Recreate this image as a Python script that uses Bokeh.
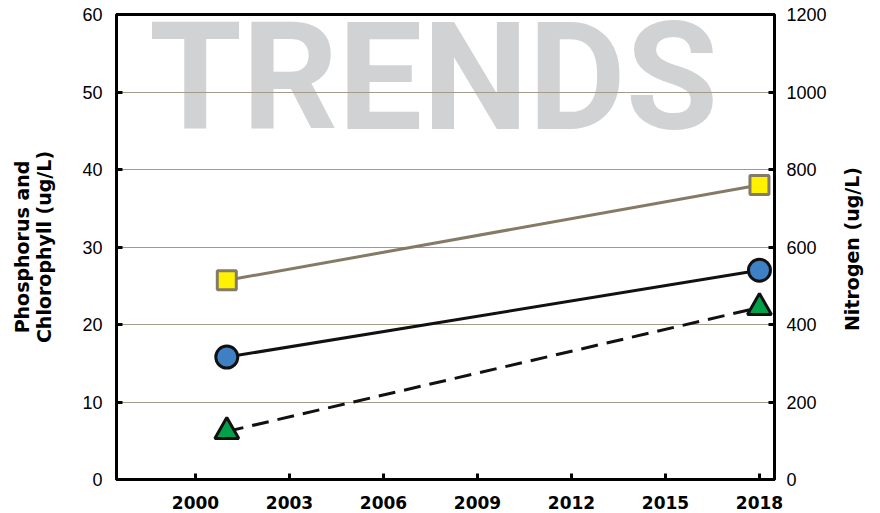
import math
from bokeh.plotting import figure
from bokeh.layouts import row
from bokeh.models import Range1d, LinearAxis, FixedTicker, Label
from bokeh.core.properties import value
from bokeh.embed import file_html
from bokeh.resources import INLINE

# Data
years = [2001, 2018]
phos_chl_square = [25.7, 38.0]
phos_chl_circle = [15.8, 27.0]
phos_chl_triangle = [6.2, 22.2]
x_ticks = [2000, 2003, 2006, 2009, 2012, 2015, 2018]
left_ticks = [0, 10, 20, 30, 40, 50, 60]
right_ticks = [0, 200, 400, 600, 800, 1000, 1200]
right_title = ["Nitrogen (ug/L)"]

p = figure(frame_width=658, frame_height=465, output_backend="svg", toolbar_location=None,
           x_range=Range1d(1997.48, 2018.48), y_range=Range1d(0, 60),
           min_border_left=116, min_border_right=56, min_border_top=14, min_border_bottom=26)
p.extra_y_ranges = {"n": Range1d(0, 1200)}

p.outline_line_color = "black"
p.outline_line_width = 3
p.background_fill_color = "white"
p.border_fill_color = "white"

p.xgrid.visible = False
p.ygrid.ticker = FixedTicker(ticks=left_ticks)
p.ygrid.grid_line_color = "#a39a88"
p.ygrid.grid_line_width = 1

# Axes
ax = p.xaxis[0]
ax.ticker = FixedTicker(ticks=x_ticks)
ay = p.yaxis[0]
ay.ticker = FixedTicker(ticks=left_ticks)
ay.axis_label = "Phosphorus and\nChlorophyll (ug/L)"

ar = LinearAxis(y_range_name="n", ticker=FixedTicker(ticks=right_ticks))
p.add_layout(ar, "right")

for a in (ax, ay, ar):
    a.axis_line_width = 3
    a.axis_line_color = "black"
    a.major_tick_line_width = 3
    a.major_tick_line_color = "black"
    a.major_tick_in = 6
    a.major_tick_out = 0
    a.minor_tick_line_color = None
    a.major_label_text_font = "Liberation Sans"
    a.major_label_text_color = "black"
    a.axis_label_text_font = "DejaVu Sans"
    a.axis_label_text_font_style = "bold"
    a.axis_label_text_font_size = "19px"
    a.axis_label_text_color = "black"

ay.major_label_text_font_size = "18px"
ar.major_label_text_font_size = "18px"
ay.major_label_standoff = 14
ar.major_label_standoff = 12
ax.major_label_text_font = "DejaVu Sans"
ax.major_label_text_font_size = "17px"
ax.major_label_text_font_style = "bold"
ax.major_label_standoff = 16
ay.axis_label_standoff = 24
ay.axis_label_text_line_height = 1.0

# Watermark
wm = Label(x=2007.6, y=63.2, text="TRENDS", text_font="Roboto", text_font_style="bold",
           text_font_size="150px", text_color="#d1d2d4", text_align="center",
           text_baseline="top", level="image")
p.add_layout(wm)

# Series
p.line(years, phos_chl_square, line_color="#857a66", line_width=3)
p.line(years, phos_chl_circle, line_color="#111111", line_width=3)
p.line(years, phos_chl_triangle, line_color="#111111", line_width=3, line_dash="17 9")

p.scatter(years, phos_chl_square, marker="square", size=19, fill_color="#fff200",
          line_color="#857a66", line_width=3)
p.scatter(years, phos_chl_circle, marker="circle", size=22, fill_color="#3f7fc4",
          line_color="#111111", line_width=3)
p.scatter(years, phos_chl_triangle, marker="triangle", size=24, fill_color="#00a14b",
          line_color="#111111", line_width=3)

# Right axis title panel (reads bottom-to-top)
p2 = figure(width=42, height=505, output_backend="svg", toolbar_location=None,
            x_range=Range1d(-1, 1), y_range=Range1d(-505 / 2 + 5.5, 505 / 2 + 5.5),
            min_border=0)
p2.axis.visible = False
p2.grid.visible = False
p2.outline_line_color = None
p2.text(x=[0], y=[0], text=right_title, angle=math.pi / 2, text_align="center",
        text_baseline="middle", text_font=value("DejaVu Sans"), text_font_style="bold",
        text_font_size="19px", text_color="black")

layout = row(p, p2, spacing=0)
open("out.html", "w").write(file_html(layout, INLINE))
